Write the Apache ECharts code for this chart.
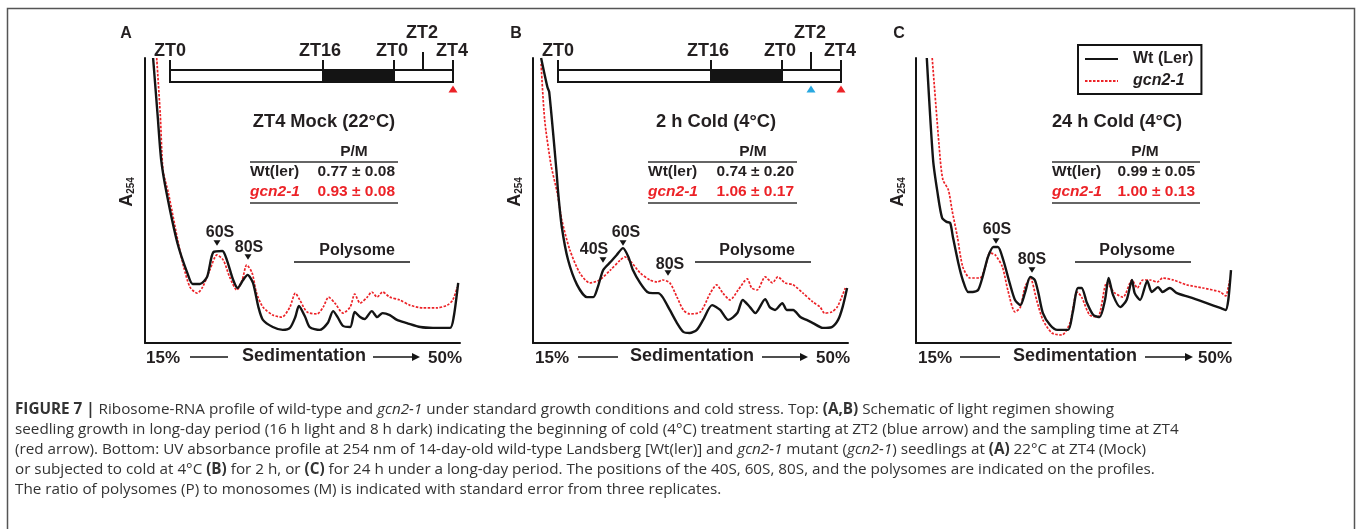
<!DOCTYPE html>
<html>
<head>
<meta charset="utf-8">
<title>Figure 7 - Ribosome profiles</title>
<script src="https://cdn.jsdelivr.net/npm/echarts@6/dist/echarts.min.js"></script>
<style>
  html, body { margin: 0; padding: 0; background: #fff; }
  #chart { width: 1357px; height: 529px; }
</style>
</head>
<body>
<div id="chart"></div>
<script>
// A254 profiles, x = sucrose gradient (%), y = absorbance (arbitrary, 0-100)
const wtA = [[15.9,100],[16.4,80],[16.8,64.2],[17.4,52.6],[18.6,35.1],[19.7,24.6],[20.3,20.7],[21.1,20.7],[21.9,23.2],[22.6,31.9],[23.6,32.3],[24.1,29.1],[24.8,22.1],[25.3,19.3],[25.9,22.1],[26.4,23.9],[27.0,21.1],[27.6,12.6],[28.1,8.1],[29.2,5.6],[30.3,4.6],[31.1,5.3],[31.7,9.1],[32.1,13.0],[32.8,9.1],[33.3,5.6],[34.4,4.6],[35.3,7.0],[35.9,11.2],[36.4,9.1],[37.0,6.0],[37.8,5.6],[38.3,10.9],[38.9,9.1],[39.4,8.4],[40.2,11.2],[40.8,9.1],[41.4,10.5],[42.2,9.8],[43.0,8.1],[44.1,7.0],[45.6,5.6],[47.0,5.3],[48.9,5.3],[49.3,9.1],[49.8,21.1]];
const gcnA = [[16.3,100],[16.7,80],[17.0,60.7],[17.6,52.6],[18.7,35.1],[19.3,26.7],[20.0,19.6],[20.8,17.5],[21.4,19.6],[22.2,25.6],[23.0,30.9],[23.7,29.1],[24.4,23.2],[25.2,18.6],[25.8,22.1],[26.3,27.4],[26.9,24.6],[27.4,17.5],[28.1,12.6],[29.2,9.8],[30.2,9.1],[31.1,12.6],[31.7,17.5],[32.2,15.1],[33.0,10.9],[34.1,10.2],[34.8,12.6],[35.4,16.1],[36.1,14.0],[37.0,10.5],[37.8,12.6],[38.3,17.2],[38.9,14.0],[39.7,16.1],[40.2,17.9],[40.8,16.1],[41.4,17.9],[42.2,16.1],[43.3,15.1],[44.4,13.3],[45.9,12.3],[47.4,12.3],[48.6,13.3],[49.2,15.1],[49.7,19.6]];
const wtB = [[15.9,100],[16.6,89.8],[16.8,88.1],[17.6,60.7],[17.8,52.6],[18.2,40.7],[18.9,29.1],[19.9,20.4],[21.0,16.1],[21.7,16.1],[22.2,19.6],[22.8,25.6],[23.6,28.4],[24.3,30.9],[25.0,33.3],[25.6,30.2],[26.1,25.6],[26.9,21.1],[27.7,17.9],[28.3,17.5],[28.9,17.5],[29.4,16.1],[30.2,11.6],[31.0,7.0],[31.7,3.9],[32.4,3.5],[33.2,4.6],[33.9,8.1],[34.9,13.3],[35.8,11.6],[36.7,8.1],[37.7,10.5],[38.3,15.1],[39.1,12.6],[39.7,10.5],[40.8,15.4],[41.3,12.6],[41.9,11.6],[42.7,14.0],[43.2,11.6],[43.9,11.6],[44.7,9.1],[45.4,8.1],[46.1,7.0],[47.2,5.3],[48.2,5.6],[48.9,8.1],[49.4,12.6],[49.9,19.3]];
const gcnB = [[15.9,97.9],[16.3,78.2],[17.0,62.5],[17.7,52.6],[18.2,43.2],[19.1,32.6],[20.2,24.6],[21.3,21.1],[22.4,22.1],[23.6,25.6],[24.7,29.1],[25.2,30.2],[26.0,28.1],[26.9,24.6],[28.0,22.1],[28.8,21.4],[29.4,22.1],[30.2,21.1],[31.0,16.1],[31.7,11.6],[32.4,10.2],[33.6,10.9],[34.7,17.5],[35.4,20.4],[36.1,17.5],[36.9,15.1],[37.8,18.6],[38.8,22.5],[39.3,19.3],[39.9,18.6],[40.8,23.2],[41.6,21.1],[42.2,23.2],[43.0,21.1],[43.9,20.4],[45.0,17.5],[46.1,14.4],[46.9,12.6],[47.4,10.5],[48.2,10.9],[48.8,12.6],[49.3,16.1],[49.7,19.3]];
const wtC = [[16.2,100],[16.9,64.2],[17.4,52.6],[17.9,43.9],[18.4,42.5],[18.8,42.1],[19.1,37.2],[19.7,28.1],[20.2,22.1],[20.8,17.9],[21.3,17.9],[21.9,18.6],[22.4,23.2],[23.0,30.2],[23.6,33.7],[24.1,33.7],[24.7,29.1],[25.4,21.1],[26.0,15.1],[26.6,13.3],[27.1,17.5],[27.7,23.2],[28.2,22.1],[28.6,17.5],[29.1,10.5],[29.9,6.3],[30.7,4.6],[31.9,4.6],[32.4,10.5],[33.0,19.3],[33.4,19.3],[34.0,14.0],[34.7,9.8],[35.4,9.1],[36.0,15.1],[36.4,22.8],[36.9,16.8],[37.7,12.6],[38.4,15.1],[39.0,22.1],[39.3,17.5],[39.9,15.1],[40.7,21.8],[41.2,17.9],[41.9,19.6],[42.4,17.9],[43.2,19.3],[44.0,17.5],[45.4,16.1],[47.3,14.0],[48.8,12.3],[49.4,11.6],[49.7,15.1],[50.0,25.6]];
const gcnC = [[16.8,100],[17.7,64.2],[18.0,57.2],[18.6,53.7],[19.0,46.7],[19.6,37.2],[20.2,26.7],[21.0,22.8],[22.1,22.8],[22.7,26.7],[23.2,31.6],[23.8,30.9],[24.6,26.7],[25.2,18.6],[26.0,10.9],[26.6,12.6],[27.1,19.6],[27.7,22.8],[28.4,15.1],[29.1,8.1],[30.1,3.5],[31.2,2.8],[32.1,7.0],[32.9,17.9],[33.4,16.1],[34.3,9.8],[35.2,9.1],[36.2,21.1],[37.1,17.5],[38.0,16.1],[39.0,22.1],[39.6,19.3],[40.2,22.1],[41.0,22.1],[41.8,21.4],[42.4,22.8],[43.6,22.1],[45.1,20.4],[46.9,19.3],[48.8,17.9],[49.4,16.5],[49.7,19.6],[49.9,22.8]];

const panelTitles = ['ZT4 Mock (22°C)', '2 h Cold (4°C)', '24 h Cold (4°C)'];
const ratioWt = ['0.77 ± 0.08', '0.74 ± 0.20', '0.99 ± 0.05'];
const ratioGcn = ['0.93 ± 0.08', '1.06 ± 0.17', '1.00 ± 0.13'];
const scheduleTicks = ['ZT0', 'ZT16', 'ZT0', 'ZT2', 'ZT4'];
const seriesNames = ['Wt (Ler)', 'gcn2-1'];

const BLACK = '#141414';
const RED = '#ec2227';
const BLUE = '#29a8e0';
const FONT = 'Liberation Sans, Arial, sans-serif';
const CAP_FONT = 'Open Sans, Roboto, sans-serif';

let chartDom = document.getElementById('chart');
let chart = echarts.init(chartDom);

// plot boxes (left edge = y axis)
const panels = [
    { left: 145, letter: 'A', letterX: 126 },
    { left: 533, letter: 'B', letterX: 516 },
    { left: 916, letter: 'C', letterX: 899 }
];

let G = [];

function text(x, y, str, o) {
    o = o || {};
    G.push({
        type: 'text', x: x, y: y, rotation: o.rotation || 0, z: 20,
        style: {
            text: str,
            fill: o.fill || '#231f20',
            fontFamily: o.family || FONT,
            fontSize: o.size || 16,
            fontWeight: o.weight || 'bold',
            fontStyle: o.style || 'normal',
            align: o.align || 'center',
            verticalAlign: o.valign || 'middle',
            rich: o.rich
        }
    });
}
function line(x1, y1, x2, y2, w, c) {
    G.push({ type: 'line', z: 20, shape: { x1: x1, y1: y1, x2: x2, y2: y2 }, style: { stroke: c || BLACK, lineWidth: w || 2 } });
}
function tri(x, y, dir, c, s) {
    s = s || 4;
    let pts = dir === 'up'
        ? [[x - s, y + s * 0.8], [x + s, y + s * 0.8], [x, y - s * 0.8]]
        : [[x - s, y - s * 0.8], [x + s, y - s * 0.8], [x, y + s * 0.8]];
    G.push({ type: 'polygon', z: 20, shape: { points: pts }, style: { fill: c || BLACK } });
}

// frame round the figure
G.push({ type: 'rect', z: 1, shape: { x: 7.5, y: 8.5, width: 1347, height: 560 }, style: { fill: 'none', stroke: '#555', lineWidth: 1.5 } });

// panel letters, y-labels
panels.forEach((p, i) => {
    text(p.letterX, 34, p.letter, { size: 16 });
    text(p.left - 18, 192, '{a|A}{s|254}', {
        rotation: Math.PI / 2,
        rich: {
            a: { fontSize: 18, fontWeight: 'bold', fontFamily: FONT, fill: '#231f20' },
            s: { fontSize: 10, fontWeight: 'bold', fontFamily: FONT, fill: '#231f20', verticalAlign: 'bottom', padding: [8, 0, 0, 0] }
        }
    });
});

// bottom "15% —— Sedimentation ——> 50%"
[
    { p15: 163, l1: [190, 228], sed: 304, arr: [373, 420], p50: 445 },
    { p15: 552, l1: [578, 618], sed: 692, arr: [762, 808], p50: 833 },
    { p15: 935, l1: [960, 1000], sed: 1075, arr: [1145, 1193], p50: 1215 }
].forEach(b => {
    text(b.p15, 358, '15%', { size: 17 });
    line(b.l1[0], 357, b.l1[1], 357, 1.5);
    text(b.sed, 356, 'Sedimentation', { size: 18 });
    line(b.arr[0], 357, b.arr[1] - 6, 357, 1.5);
    G.push({ type: 'polygon', z: 20, shape: { points: [[b.arr[1] - 8, 353], [b.arr[1] - 8, 361], [b.arr[1], 357]] }, style: { fill: BLACK } });
    text(b.p50, 358, '50%', { size: 17 });
});

// light regimen schematic (A, B)
[0, 388].forEach((dx, i) => {
    const x0 = 170 + dx, x16 = 323 + dx, x0b = 394 + dx, x2 = 423 + dx, x4 = 453 + dx;
    G.push({ type: 'rect', z: 19, shape: { x: x0, y: 70, width: x4 - x0, height: 12 }, style: { fill: '#fff', stroke: BLACK, lineWidth: 2 } });
    G.push({ type: 'rect', z: 19, shape: { x: x16, y: 70, width: x0b - x16, height: 12 }, style: { fill: BLACK, stroke: BLACK, lineWidth: 2 } });
    line(x0, 60, x0, 70);
    line(x16, 60, x16, 70);
    line(x0b, 60, x0b, 70);
    line(x2, 52, x2, 70);
    line(x4, 60, x4, 70);
    text(x0, 51, scheduleTicks[0], { size: 18 });
    text(x16 - 3, 51, scheduleTicks[1], { size: 18 });
    text(x0b - 2, 51, scheduleTicks[2], { size: 18 });
    text(x2 - 1, 33, scheduleTicks[3], { size: 18 });
    text(x4 - 1, 51, scheduleTicks[4], { size: 18 });
    tri(x4, 89, 'up', RED, 4.5);
    if (i === 1) tri(x2, 89, 'up', BLUE, 4.5);
});

// titles and P/M tables
[
    { c: 324, l: 250, r: 398, pm: 354, vr: 395 },
    { c: 716, l: 648, r: 797, pm: 753, vr: 794 },
    { c: 1117, l: 1052, r: 1200, pm: 1145, vr: 1195 }
].forEach((t, i) => {
    text(t.c, 122, panelTitles[i], { size: 18.3 });
    text(t.pm, 152, 'P/M', { size: 15.5 });
    line(t.l, 162, t.r, 162, 1.5, '#333');
    text(t.l, 172, 'Wt(ler)', { size: 15.5, align: 'left' });
    text(t.vr, 172, ratioWt[i], { size: 15.5, align: 'right' });
    text(t.l, 192, 'gcn2-1', { size: 15.5, align: 'left', fill: RED, style: 'italic' });
    text(t.vr, 192, ratioGcn[i], { size: 15.5, align: 'right', fill: RED });
    line(t.l, 203, t.r, 203, 1.5, '#333');
});

// peak labels
function peak(x, y, label, tx, ty) {
    text(tx, ty, label, { size: 16 });
    tri(x, y, 'down', BLACK, 3.5);
}
peak(217, 243, '60S', 220, 233);
peak(248, 257, '80S', 249, 248);
peak(603, 260, '40S', 594, 250);
peak(623, 243, '60S', 626, 233);
peak(668, 273, '80S', 670, 265);
peak(996, 241, '60S', 997, 230);
peak(1032, 270, '80S', 1032, 260);
[[294, 410, 357], [695, 811, 757], [1075, 1191, 1137]].forEach(s => {
    text(s[2], 251, 'Polysome', { size: 16 });
    line(s[0], 262, s[1], 262, 1.5);
});

// caption
const CAP_SIZE = 15.25;
const capRich = {
    b: { fontFamily: CAP_FONT, fontSize: CAP_SIZE, fontWeight: 'bold', fill: '#333' },
    i: { fontFamily: CAP_FONT, fontSize: CAP_SIZE, fontStyle: 'italic', fill: '#333' }
};
const captionLines = [
    '{b|FIGURE 7 |} Ribosome-RNA profile of wild-type and {i|gcn2-1} under standard growth conditions and cold stress. Top: {b|(A,B)} Schematic of light regimen showing',
    'seedling growth in long-day period (16 h light and 8 h dark) indicating the beginning of cold (4°C) treatment starting at ZT2 (blue arrow) and the sampling time at ZT4',
    '(red arrow). Bottom: UV absorbance profile at 254 nm of 14-day-old wild-type Landsberg [Wt(ler)] and {i|gcn2-1} mutant ({i|gcn2-1}) seedlings at {b|(A)} 22°C at ZT4 (Mock)',
    'or subjected to cold at 4°C {b|(B)} for 2 h, or {b|(C)} for 24 h under a long-day period. The positions of the 40S, 60S, 80S, and the polysomes are indicated on the profiles.',
    'The ratio of polysomes (P) to monosomes (M) is indicated with standard error from three replicates.'
];
captionLines.forEach((s, k) => {
    text(15, 410 + k * 20, s, { family: CAP_FONT, size: CAP_SIZE, weight: 'normal', align: 'left', fill: '#333', rich: capRich });
});

function axisSet(idx) {
    return {
        gridIndex: idx, type: 'value', show: true,
        axisLine: { show: true, onZero: false, lineStyle: { color: BLACK, width: 2 } },
        axisTick: { show: false }, axisLabel: { show: false }, splitLine: { show: false }
    };
}
function profile(name, data, idx, red) {
    return {
        name: name, type: 'line', xAxisIndex: idx, yAxisIndex: idx,
        data: data, symbol: 'none', showSymbol: false, smooth: 0.25,
        z: red ? 3 : 4,
        lineStyle: red ? { color: RED, width: 1.7, type: [2.5, 1.5] } : { color: BLACK, width: 2.4 },
        itemStyle: { color: red ? RED : BLACK }
    };
}

let option = {
    backgroundColor: '#fff',
    animation: false,
    grid: panels.map(p => ({ left: p.left, top: 58, width: 315, height: 285 })),
    xAxis: [0, 1, 2].map(i => Object.assign(axisSet(i), { min: 15, max: 50 })),
    yAxis: [0, 1, 2].map(i => Object.assign(axisSet(i), { min: 0, max: 100 })),
    legend: {
        left: 1078, top: 45, orient: 'vertical',
        data: seriesNames, selectedMode: false,
        itemWidth: 33, itemHeight: 14, itemGap: 6,
        padding: [6, 8, 5, 6],
        borderColor: BLACK, borderWidth: 2, borderRadius: 0,
        itemStyle: { opacity: 0 },
        formatter: n => n === 'gcn2-1' ? '{i|gcn2-1}' : '{n|' + n + '}',
        textStyle: {
            rich: {
                n: { fontFamily: FONT, fontSize: 16, fontWeight: 'bold', color: '#231f20', padding: [0, 0, 0, 10] },
                i: { fontFamily: FONT, fontSize: 16, fontWeight: 'bold', fontStyle: 'italic', color: '#231f20', padding: [0, 0, 0, 10] }
            }
        }
    },
    graphic: G,
    series: [
        profile(seriesNames[0], wtA, 0, false),
        profile(seriesNames[1], gcnA, 0, true),
        profile(seriesNames[0], wtB, 1, false),
        profile(seriesNames[1], gcnB, 1, true),
        profile(seriesNames[0], wtC, 2, false),
        profile(seriesNames[1], gcnC, 2, true)
    ]
};

chart.setOption(option);

window.addEventListener('resize', () => {
    chart.resize();
});
</script>
</body>
</html>
